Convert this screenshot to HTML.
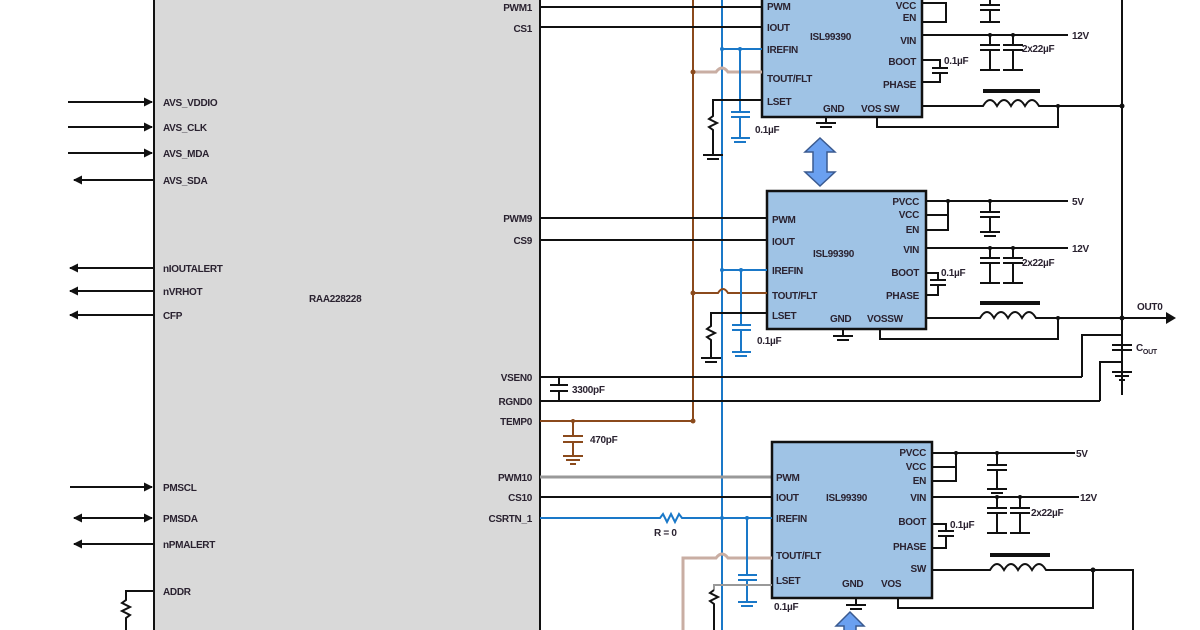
<!DOCTYPE html>
<html><head><meta charset="utf-8"><style>
html,body{margin:0;padding:0;background:#fff;width:1200px;height:630px;overflow:hidden}
svg{display:block}
text{font-family:"Liberation Sans",sans-serif;font-size:10px;font-weight:bold;fill:#2a2230;letter-spacing:-0.3px}
.k{stroke:#111;stroke-width:2;fill:none}
.b{stroke:#1a78c8;stroke-width:2;fill:none}
.r{stroke:#8b4a1c;stroke-width:2;fill:none}
.lr{stroke:#c9aea3;stroke-width:3;fill:none}
.g{stroke:#999;stroke-width:3;fill:none}
.core{stroke:#111;stroke-width:4;fill:none}
.chip{fill:#9fc3e5;stroke:#111;stroke-width:2.5}
.e{text-anchor:end}
</style></head><body>
<svg width="1200" height="630" viewBox="0 0 1200 630" xmlns="http://www.w3.org/2000/svg">
<defs>
<marker id="ar" markerWidth="9" markerHeight="9" refX="8" refY="4.5" orient="auto" markerUnits="userSpaceOnUse"><path d="M0,0 L9,4.5 L0,9 z" fill="#111"/></marker>
<marker id="al" markerWidth="9" markerHeight="9" refX="1" refY="4.5" orient="auto" markerUnits="userSpaceOnUse"><path d="M9,0 L0,4.5 L9,9 z" fill="#111"/></marker>
</defs>
<rect x="154" y="-5" width="386" height="645" fill="#d9d9d9" stroke="#111" stroke-width="2"/>
<text x="309" y="302">RAA228228</text>
<g class="k">
<line x1="68" y1="102" x2="152" y2="102" marker-end="url(#ar)"/>
<line x1="68" y1="127" x2="152" y2="127" marker-end="url(#ar)"/>
<line x1="68" y1="153" x2="152" y2="153" marker-end="url(#ar)"/>
<line x1="74" y1="180" x2="154" y2="180" marker-start="url(#al)"/>
<line x1="70" y1="268" x2="154" y2="268" marker-start="url(#al)"/>
<line x1="70" y1="291" x2="154" y2="291" marker-start="url(#al)"/>
<line x1="70" y1="315" x2="154" y2="315" marker-start="url(#al)"/>
<line x1="70" y1="487" x2="152" y2="487" marker-end="url(#ar)"/>
<line x1="74" y1="518" x2="152" y2="518" marker-start="url(#al)" marker-end="url(#ar)"/>
<line x1="74" y1="544" x2="154" y2="544" marker-start="url(#al)"/>
<path d="M154,591 H126 V600 l-4,3 l8,4 l-8,4 l8,4 l-4,3 V630"/>
</g>
<text x="163" y="106">AVS_VDDIO</text>
<text x="163" y="131">AVS_CLK</text>
<text x="163" y="157">AVS_MDA</text>
<text x="163" y="184">AVS_SDA</text>
<text x="163" y="272">nIOUTALERT</text>
<text x="163" y="295">nVRHOT</text>
<text x="163" y="319">CFP</text>
<text x="163" y="491">PMSCL</text>
<text x="163" y="522">PMSDA</text>
<text x="163" y="548">nPMALERT</text>
<text x="163" y="595">ADDR</text>
<text class="e" x="532" y="11">PWM1</text>
<text class="e" x="532" y="32">CS1</text>
<text class="e" x="532" y="222">PWM9</text>
<text class="e" x="532" y="244">CS9</text>
<text class="e" x="532" y="381">VSEN0</text>
<text class="e" x="532" y="405">RGND0</text>
<text class="e" x="532" y="425">TEMP0</text>
<text class="e" x="532" y="481">PWM10</text>
<text class="e" x="532" y="501">CS10</text>
<text class="e" x="532" y="522">CSRTN_1</text>

<line class="r" x1="693" y1="0" x2="693" y2="421"/>
<line class="b" x1="722" y1="0" x2="722" y2="630"/>
<g class="k">
<line x1="540" y1="7" x2="762" y2="7"/>
<line x1="540" y1="27" x2="762" y2="27"/>
<line x1="540" y1="218" x2="767" y2="218"/>
<line x1="540" y1="240" x2="767" y2="240"/>
<line x1="540" y1="377" x2="1082" y2="377"/>
<line x1="540" y1="401" x2="1100" y2="401"/>
<line x1="540" y1="497" x2="772" y2="497"/>
</g>
<line class="g" x1="540" y1="477" x2="772" y2="477"/>
<path class="b" d="M540,518 H660 l3,-4 l4,8 l4,-8 l4,8 l4,-8 l3,4 H772"/>
<text x="654" y="536">R = 0</text>
<path class="r" d="M540,421 H693"/>
<path class="r" d="M573,421 V436 M563,436 H583 M563,442 H583 M573,442 V456 M563,456 H583 M566,460 H580 M570,464 H576"/>
<text x="590" y="443">470pF</text>
<path class="k" d="M559,377 V385 M550,385 H568 M550,391 H568 M559,391 V401"/>
<text x="572" y="393">3300pF</text>

<rect class="chip" x="762" y="-10" width="160" height="127"/>
<path class="lr" d="M693,72 H716 q6,-8 12,0 H762"/>
<path class="b" d="M722,49 H762 M740,49 V112 M731,112 H750 M731,117 H750 M740,117 V138 M731,138 H750 M734,142 H746"/>
<text x="755" y="133">0.1µF</text>
<path class="k" d="M762,100 H713 V116 l-4,3 l8,4 l-8,4 l4,3 V155 M703,155 H723 M707,159 H719"/>
<text x="767" y="10">PWM</text><text x="767" y="31">IOUT</text><text x="767" y="53">IREFIN</text>
<text x="767" y="82">TOUT/FLT</text><text x="767" y="105">LSET</text>
<text x="823" y="112">GND</text><text x="861" y="112">VOS SW</text>
<text x="810" y="40">ISL99390</text>
<text class="e" x="916" y="9">VCC</text><text class="e" x="916" y="21">EN</text>
<text class="e" x="916" y="44">VIN</text><text class="e" x="916" y="65">BOOT</text><text class="e" x="916" y="88">PHASE</text>
<g class="k">
<path d="M922,3 H946 V22 H922"/>
<path d="M922,35 H1068 M990,35 V45 M980,45 H1000 M980,50 H1000 M990,50 V70 M980,70 H1000 M1013,35 V45 M1003,45 H1023 M1003,50 H1023 M1013,50 V70 M1003,70 H1023"/>
<path d="M990,0 V5 M980,5 H1000 M980,10 H1000 M990,10 V22 M980,22 H1000"/>
<path d="M922,60 H940 V68 M932,68 H948 M932,73 H948 M940,73 V82 H922"/>
<path d="M922,106 H983 q7,-12 14,0 q7,-12 14,0 q7,-12 14,0 q7,-12 14,0 H1122"/>
<path d="M877,117 V127 H1058 V106"/>
<path d="M826,117 V123 M816,123 H836 M820,127 H832"/>
<line x1="1122" y1="0" x2="1122" y2="395"/>
</g>
<line class="core" x1="983" y1="91" x2="1040" y2="91"/>
<text x="1072" y="39">12V</text><text x="1022" y="52">2x22µF</text><text x="944" y="64">0.1µF</text>

<path d="M820,138 L835,152 H827 V172 H835 L820,186 L805,172 H813 V152 H805 Z" fill="#6aa0f0" stroke="#3a5a90" stroke-width="1.5"/>

<rect class="chip" x="767" y="191" width="159" height="138"/>
<path class="r" d="M693,293 H718 q5,-8 10,0 H767"/>
<path class="b" d="M722,270 H767 M741,270 V325 M732,325 H751 M732,330 H751 M741,330 V352 M732,352 H751 M735,356 H747"/>
<text x="757" y="344">0.1µF</text>
<path class="k" d="M767,313 H711 V326 l-4,3 l8,4 l-8,4 l4,3 V358 M701,358 H721 M705,362 H717"/>
<text x="772" y="223">PWM</text><text x="772" y="245">IOUT</text><text x="772" y="274">IREFIN</text>
<text x="772" y="299">TOUT/FLT</text><text x="772" y="319">LSET</text>
<text x="830" y="322">GND</text><text x="867" y="322">VOSSW</text>
<text x="813" y="257">ISL99390</text>
<text class="e" x="919" y="205">PVCC</text><text class="e" x="919" y="218">VCC</text><text class="e" x="919" y="233">EN</text>
<text class="e" x="919" y="253">VIN</text><text class="e" x="919" y="276">BOOT</text><text class="e" x="919" y="299">PHASE</text>
<g class="k">
<path d="M926,201 H1068 M948,201 V230 H926 M926,215 H948 M990,201 V212 M980,212 H1000 M980,217 H1000 M990,217 V232 M980,232 H1000 M984,236 H996"/>
<path d="M926,248 H1068 M990,248 V258 M980,258 H1000 M980,263 H1000 M990,263 V283 M980,283 H1000 M1013,248 V258 M1003,258 H1023 M1003,263 H1023 M1013,263 V283 M1003,283 H1023"/>
<path d="M926,273 H938 V280 M930,280 H946 M930,285 H946 M938,285 V295 H926"/>
<path d="M926,318 H980 q7,-12 14,0 q7,-12 14,0 q7,-12 14,0 q7,-12 14,0 H1170"/>
<path d="M880,329 V339 H1058 V318"/>
<path d="M843,329 V336 M833,336 H853 M837,340 H849"/>
<path d="M1122,318 V345 M1112,345 H1132 M1112,350 H1132 M1122,350 V372 M1112,372 H1132 M1115,376 H1129 M1119,380 H1125"/>
<path d="M1082,377 V335 H1122 M1100,401 V362 H1122"/>
</g>
<line class="core" x1="980" y1="303" x2="1040" y2="303"/>
<path d="M1166,312 L1176,318 L1166,324 Z" fill="#111"/>
<text x="1137" y="310">OUT0</text>
<text x="1136" y="351">C<tspan font-size="7" dy="3">OUT</tspan></text>
<text x="1072" y="205">5V</text><text x="1072" y="252">12V</text><text x="1022" y="266">2x22µF</text><text x="941" y="276">0.1µF</text>

<rect class="chip" x="772" y="442" width="160" height="156"/>
<path class="lr" d="M683,630 V558 H716 q6,-8 12,0 H772"/>
<path class="b" d="M722,518 H772 M747,518 V575 M738,575 H757 M738,580 H757 M747,580 V602 M738,602 H757 M741,606 H753"/>
<text x="774" y="610">0.1µF</text>
<path class="g" style="stroke-width:2" d="M772,585 H714 V590"/>
<path class="k" d="M714,590 l-4,3 l8,4 l-8,4 l4,3 V630"/>
<text x="776" y="481">PWM</text><text x="776" y="501">IOUT</text><text x="776" y="522">IREFIN</text>
<text x="776" y="559">TOUT/FLT</text><text x="776" y="584">LSET</text>
<text x="842" y="587">GND</text><text x="881" y="587">VOS</text>
<text x="826" y="501">ISL99390</text>
<text class="e" x="926" y="456">PVCC</text><text class="e" x="926" y="470">VCC</text><text class="e" x="926" y="484">EN</text>
<text class="e" x="926" y="501">VIN</text><text class="e" x="926" y="525">BOOT</text><text class="e" x="926" y="550">PHASE</text><text class="e" x="926" y="572">SW</text>
<g class="k">
<path d="M932,453 H1075 M956,453 V481 H932 M932,467 H956 M997,453 V465 M987,465 H1007 M987,470 H1007 M997,470 V489 M987,489 H1007 M991,493 H1003"/>
<path d="M932,497 H1079 M997,497 V508 M987,508 H1007 M987,513 H1007 M997,513 V533 M987,533 H1007 M1020,497 V508 M1010,508 H1030 M1010,513 H1030 M1020,513 V533 M1010,533 H1030"/>
<path d="M932,524 H946 V531 M938,531 H954 M938,536 H954 M946,536 V548 H932"/>
<path d="M932,570 H990 q7,-12 14,0 q7,-12 14,0 q7,-12 14,0 q7,-12 14,0 H1133 V630"/>
<path d="M898,598 V608 H1093 V570"/>
<path d="M856,598 V605 M846,605 H866 M850,609 H862"/>
</g>
<line class="core" x1="990" y1="555" x2="1050" y2="555"/>
<path d="M850,612 L864,626 H856 V640 H844 V626 H836 Z" fill="#6aa0f0" stroke="#3a5a90" stroke-width="1.5"/>
<text x="1076" y="457">5V</text><text x="1080" y="501">12V</text><text x="1031" y="516">2x22µF</text><text x="950" y="528">0.1µF</text>
<g fill="#111">
<circle cx="1122" cy="106" r="2.5"/><circle cx="1122" cy="318" r="2.5"/><circle cx="1093" cy="570" r="2.5"/>
<circle cx="990" cy="35" r="2"/><circle cx="1013" cy="35" r="2"/><circle cx="990" cy="201" r="2"/><circle cx="948" cy="201" r="2"/>
<circle cx="990" cy="248" r="2"/><circle cx="1013" cy="248" r="2"/><circle cx="997" cy="453" r="2"/><circle cx="956" cy="453" r="2"/>
<circle cx="997" cy="497" r="2"/><circle cx="1020" cy="497" r="2"/><circle cx="1058" cy="106" r="2"/><circle cx="1058" cy="318" r="2"/>
</g>
<g fill="#1a78c8"><circle cx="722" cy="49" r="2"/><circle cx="740" cy="49" r="2"/><circle cx="722" cy="270" r="2"/><circle cx="741" cy="270" r="2"/><circle cx="722" cy="518" r="2"/><circle cx="747" cy="518" r="2"/></g>
<g fill="#8b4a1c"><circle cx="693" cy="72" r="2.5"/><circle cx="693" cy="293" r="2.5"/><circle cx="693" cy="421" r="2.5"/><circle cx="573" cy="421" r="2"/></g>
</svg>
</body></html>
